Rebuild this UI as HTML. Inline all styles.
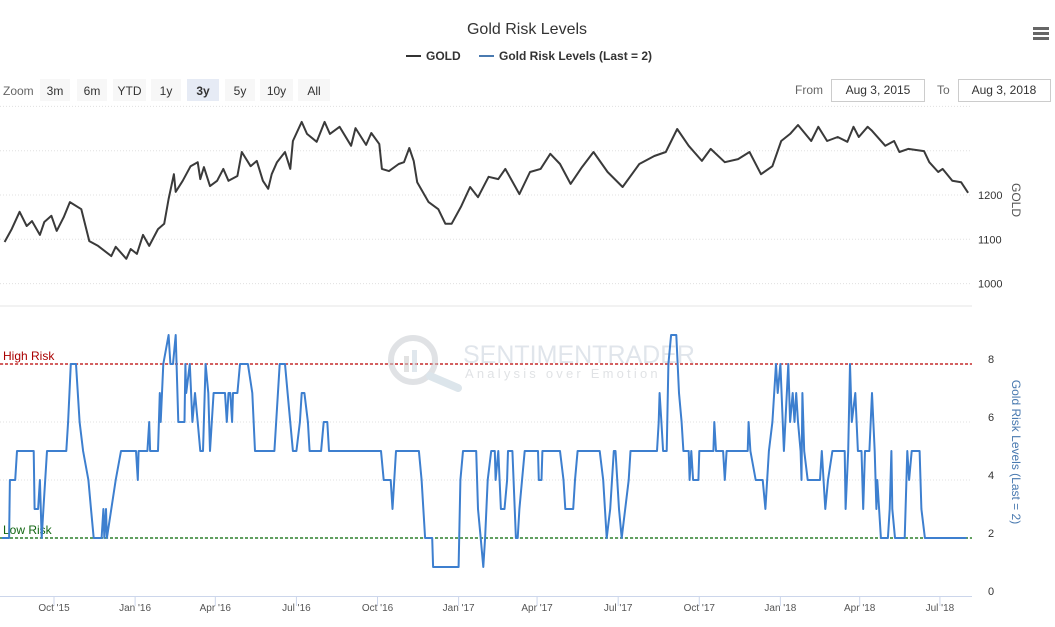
<!DOCTYPE html>
<html><head><meta charset="utf-8"><style>
body{margin:0;background:#fff;}
svg{display:block;font-family:"Liberation Sans",sans-serif;}
</style></head><body>
<svg id="chart" width="1055" height="627" viewBox="0 0 1055 627" xmlns="http://www.w3.org/2000/svg">
<rect width="1055" height="627" fill="#fff"/>
<text x="527" y="34" text-anchor="middle" font-size="16" fill="#333">Gold Risk Levels</text>
<g>
 <g><line x1="406" y1="56" x2="421" y2="56" stroke="#333" stroke-width="2"/><text x="426" y="60" font-size="12" font-weight="bold" fill="#333">GOLD</text></g>
 <g><line x1="479" y1="56" x2="494" y2="56" stroke="#4a7ab0" stroke-width="2"/><text x="499" y="60" font-size="12" font-weight="bold" fill="#333">Gold Risk Levels (Last = 2)</text></g>
</g>
<g fill="#666"><rect x="1033" y="27" width="16" height="3"/><rect x="1033" y="32" width="16" height="3"/><rect x="1033" y="37" width="16" height="3"/></g>
<text x="3" y="95" font-size="12" fill="#666">Zoom</text>
<g id="zoomBtns"></g>
<text x="795" y="94" font-size="12" fill="#666">From</text>
<g><rect x="831.5" y="79.5" width="93" height="22" fill="#fff" stroke="#ccc"/><text x="878" y="94" text-anchor="middle" font-size="12" fill="#333">Aug 3, 2015</text></g>
<text x="937" y="94" font-size="12" fill="#666">To</text>
<g><rect x="958.5" y="79.5" width="92" height="22" fill="#fff" stroke="#ccc"/><text x="1004" y="94" text-anchor="middle" font-size="12" fill="#333">Aug 3, 2018</text></g>
<g id="grid"></g>
<g opacity="0.55">
 <circle cx="413" cy="360" r="22" fill="none" stroke="#c8ccd0" stroke-width="6"/>
 <line x1="430" y1="376" x2="458" y2="388" stroke="#c0d0dc" stroke-width="8" stroke-linecap="round"/>
 <rect x="404" y="356" width="5" height="16" fill="#ccc"/><rect x="412" y="350" width="5" height="22" fill="#c8d4e0"/>
 <text x="463" y="363" font-size="25" fill="#c8d0dc">SENTIMENTRADER</text>
 <text x="465" y="378" font-size="13" letter-spacing="3.2" fill="#c8ccd0">Analysis over Emotion</text>
</g>
<g id="plot"></g>
<text transform="translate(1012,200) rotate(90)" text-anchor="middle" font-size="12" fill="#555">GOLD</text>
<text transform="translate(1012,452) rotate(90)" text-anchor="middle" font-size="12" fill="#4a7ab0">Gold Risk Levels (Last = 2)</text>
</svg>
<script>
const goldDays=[3,11,20,28,34,43,48,56,62,70,77,90,99,109,124,129,141,146,153,160,167,177,184,189,195,197,205,214,222,225,229,236,244,251,257,267,272,282,289,296,302,306,312,321,327,330,340,346,357,366,372,383,396,401,413,419,428,431,439,450,456,462,467,471,484,495,503,510,521,531,540,552,563,571,587,599,611,622,633,645,658,671,687,704,723,740,753,766,779,794,804,820,835,848,861,874,884,894,903,918,926,936,948,959,966,972,982,987,1002,1012,1018,1028,1046,1052,1062,1067,1078,1088,1096];
const goldValues=[1094,1123,1162,1130,1141,1110,1139,1153,1119,1150,1184,1168,1096,1085,1062,1083,1056,1078,1067,1110,1085,1123,1135,1191,1247,1207,1232,1265,1274,1236,1263,1220,1232,1259,1232,1243,1297,1265,1277,1232,1214,1247,1274,1297,1259,1322,1365,1338,1320,1365,1338,1354,1311,1351,1313,1340,1315,1259,1254,1270,1274,1306,1277,1229,1184,1168,1135,1135,1175,1218,1195,1241,1236,1259,1202,1252,1259,1293,1270,1225,1263,1297,1252,1218,1270,1288,1297,1349,1311,1277,1304,1274,1281,1297,1247,1265,1322,1338,1358,1322,1354,1322,1331,1320,1354,1331,1354,1345,1311,1322,1297,1304,1299,1274,1252,1259,1232,1229,1205];
const riskDays=[0,8,9,15,17,36,37,41,43,45,47,51,73,75,78,84,88,92,98,101,104,113,115,116,118,119,124,129,135,152,154,155,165,167,168,177,179,180,183,189,191,194,197,200,207,208,209,213,216,219,222,225,228,231,234,236,240,253,255,257,259,261,262,267,270,279,284,287,309,315,321,324,330,334,338,340,343,347,349,362,365,369,371,430,433,441,443,447,473,476,480,488,489,518,520,523,538,540,543,546,548,551,555,559,560,563,566,570,573,574,579,583,585,587,593,608,609,612,613,633,637,639,648,650,653,678,682,686,690,694,696,700,703,707,711,713,743,745,746,748,750,754,756,759,765,768,771,773,779,780,782,784,790,791,807,808,810,818,820,822,846,847,849,855,863,866,870,874,878,880,883,887,892,894,897,899,901,903,906,907,908,910,914,928,930,934,937,942,956,957,960,962,964,968,971,975,977,979,984,987,990,992,993,997,1005,1007,1009,1010,1013,1024,1027,1029,1032,1041,1043,1047,1094];
const riskValues=[2,2,4,4,5,5,3,3,4,2,3,5,5,6,8,8,6,5,4,3,2,2,3,2,3,2,3,4,5,5,4,5,5,6,5,5,7,6,8,9,8,8,9,6,6,8,7,8,6,7,6,5,5,8,7,5,7,7,6,7,7,6,7,7,8,8,7,5,5,8,8,7,5,5,6,7,7,6,5,5,6,6,5,5,4,4,3,5,5,4,2,2,1,1,4,5,5,3,2,1,2,4,5,5,4,5,3,3,4,5,5,2,2,3,5,5,4,4,5,5,4,3,3,4,5,5,4,2,3,5,5,3,2,3,4,5,5,6,7,6,5,5,8,9,9,7,6,5,5,4,5,4,4,5,5,6,5,5,4,5,5,6,5,4,4,3,5,6,8,7,8,5,8,6,7,6,7,6,5,4,7,5,4,4,5,3,4,5,5,3,5,8,6,7,5,5,3,5,5,7,5,3,4,2,2,3,5,3,2,2,5,4,5,5,3,2,2];
const goldTicks=[1000,1100,1200];
const riskTicks=[0,2,4,6,8];
const xTickDays=[59,151,242,334,426,518,607,699,791,883,973,1064];
const xTickLabels=["Oct '15","Jan '16","Apr '16","Jul '16","Oct '16","Jan '17","Apr '17","Jul '17","Oct '17","Jan '18","Apr '18","Jul '18"];
const zoomLabels=["3m","6m","YTD","1y","3y","5y","10y","All"];
const riskThresholds=[8,2];

const NS="http://www.w3.org/2000/svg";
function mk(tag,attrs,parent){const e=document.createElementNS(NS,tag);for(const k in attrs)e.setAttribute(k,attrs[k]);parent.appendChild(e);return e;}
const xS=d=>2+d*0.8815;
const gY=v=>195-(v-1200)*0.443;
const rY=v=>596-v*29;
const grid=document.getElementById('grid'),plot=document.getElementById('plot'),zb=document.getElementById('zoomBtns');
const bx=[40,77,113,151,187,225,260,298],bw=[30,30,33,30,32,30,33,32];
zoomLabels.forEach((l,i)=>{const g=mk('g',{},zb);


mk('rect',{x:bx[i],y:79,width:bw[i],height:22,fill:l==='3y'?'#e6ebf5':'#f7f7f7'},g);
const t=mk('text',{x:bx[i]+bw[i]/2,y:95,'text-anchor':'middle','font-size':12,fill:'#333','font-weight':l==='3y'?'bold':'normal'},g);t.textContent=l;});
[1300,1400].concat(goldTicks).forEach(v=>{const l=mk('line',{x1:0,x2:972,y1:gY(v),y2:gY(v),stroke:'#e0e0e0','stroke-dasharray':'1,2'},grid);

});
mk('line',{x1:0,x2:972,y1:306,y2:306,stroke:'#e6e6e6'},grid);
goldTicks.forEach(v=>{const t=mk('text',{x:978,y:gY(v)+4,'font-size':11,fill:'#333'},grid);t.textContent=v;

});
riskTicks.forEach(v=>{if(v>0){const l=mk('line',{x1:0,x2:972,y1:rY(v),y2:rY(v),stroke:'#e0e0e0','stroke-dasharray':'1,2'},grid);

}
const t=mk('text',{x:988,y:rY(v)-1,'font-size':11,fill:'#333'},grid);t.textContent=v;

});
const ax=mk('line',{x1:0,x2:972,y1:596.5,y2:596.5,stroke:'#ccd6eb'},grid);


xTickDays.forEach((d,i)=>{mk('line',{x1:xS(d),x2:xS(d),y1:597,y2:606,stroke:'#ccd6eb'},grid);
const t=mk('text',{x:xS(d),y:611,'text-anchor':'middle','font-size':10,fill:'#555'},grid);t.textContent=xTickLabels[i];

});
const thrCol=['#b00','#060'],thrName=['High Risk','Low Risk'];
riskThresholds.forEach((v,i)=>{const l=mk('line',{x1:0,x2:972,y1:rY(v),y2:rY(v),stroke:thrCol[i],'stroke-width':1.3,'stroke-dasharray':'3,2'},grid);


const t=mk('text',{x:3,y:rY(v)-4,'font-size':12,fill:i?'#161':'#a00'},grid);t.textContent=thrName[i];

});
const gp=mk('path',{d:goldDays.map((d,i)=>(i?'L':'M')+xS(d).toFixed(1)+' '+gY(goldValues[i]).toFixed(1)).join(''),fill:'none',stroke:'#3a3a3a','stroke-width':2,'stroke-linejoin':'round'},plot);


const rp=mk('path',{d:riskDays.map((d,i)=>(i?'L':'M')+xS(d).toFixed(1)+' '+rY(riskValues[i]).toFixed(1)).join(''),fill:'none',stroke:'#3d7fcf','stroke-width':2,'stroke-linejoin':'round'},plot);


</script>
</body></html>
